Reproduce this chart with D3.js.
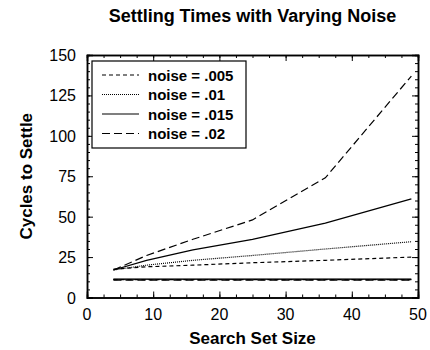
<!DOCTYPE html>
<html>
<head>
<meta charset="utf-8">
<script src="https://cdn.jsdelivr.net/npm/d3@7"></script>
<style>
  body { margin: 0; background: #fff; }
  svg { font-family: 'Liberation Sans', Arial, sans-serif; }
</style>
</head>
<body>
<div id="chart"></div>
<script>
// Settling times with varying noise
const setSizes = [4, 9, 16, 25, 36, 49];
const noiseLabels = ['noise = .005', 'noise = .01', 'noise = .015', 'noise = .02'];
const absentValues = [
    [17.5, 19, 20, 21.5, 23, 25],
    [17, 20, 23, 26, 30, 34.5],
    [17, 23, 29.5, 36, 46, 61],
    [17, 26, 36, 48, 74, 137]
];
// the flat line near the bottom: all four noise levels overlap there
const presentValues = [
    [11, 11, 11, 11, 11, 11],
    [11.2, 11.2, 11.2, 11.2, 11.2, 11.2],
    [11.4, 11.4, 11.4, 11.4, 11.4, 11.4],
    [10.8, 10.8, 10.8, 10.8, 10.8, 10.8]
];
const xTicks = [0, 10, 20, 30, 40, 50];
const yTicks = [0, 25, 50, 75, 100, 125, 150];

const dashes = ['4,3', '1,1', null, '8,4'];

const width = 430, height = 350;
const margin = { top: 55, right: 12, bottom: 52, left: 87 };
const innerW = 418 - margin.left;
const innerH = 297.5 - margin.top;

const svg = d3.select('#chart').append('svg')
    .attr('width', width)
    .attr('height', height);

const g = svg.append('g')
    .attr('transform', `translate(${margin.left},${margin.top})`);

const x = d3.scaleLinear().domain([0, 50]).range([0, innerW]);
const y = d3.scaleLinear().domain([0, 150]).range([innerH, 0]);

// minor + major ticks, drawn inward on all four sides
const xMinor = d3.range(0, 50.01, 2.5);
const yMinor = d3.range(0, 150.01, 5);

function tickAxis(axisFn, scale, values, size) {
    return axisFn(scale).tickValues(values).tickSize(size).tickFormat('');
}

const axes = [
    { sel: g.append('g').attr('transform', `translate(0,${innerH})`), fn: d3.axisTop, s: x, minor: xMinor, major: xTicks },
    { sel: g.append('g'), fn: d3.axisBottom, s: x, minor: xMinor, major: xTicks },
    { sel: g.append('g'), fn: d3.axisRight, s: y, minor: yMinor, major: yTicks },
    { sel: g.append('g').attr('transform', `translate(${innerW},0)`), fn: d3.axisLeft, s: y, minor: yMinor, major: yTicks }
];
axes.forEach(a => {
    a.sel.append('g').call(tickAxis(a.fn, a.s, a.minor, 3));
    a.sel.append('g').call(tickAxis(a.fn, a.s, a.major, 6));
    a.sel.selectAll('path').attr('stroke', '#000').attr('stroke-width', 1.5);
    a.sel.selectAll('line').attr('stroke', '#000').attr('stroke-width', 1);
});

// tick labels
g.selectAll('.xlab')
    .data(xTicks)
    .enter().append('text')
    .attr('x', d => x(d))
    .attr('y', innerH + 22)
    .attr('text-anchor', 'middle')
    .style('font-size', '16px')
    .text(d => d);

g.selectAll('.ylab')
    .data(yTicks)
    .enter().append('text')
    .attr('x', -11)
    .attr('y', d => y(d) + 6)
    .attr('text-anchor', 'end')
    .style('font-size', '16px')
    .text(d => d);

// lines
const line = d3.line()
    .x((d, i) => x(setSizes[i]))
    .y(d => y(d));

presentValues.forEach((vals, k) => {
    g.append('path')
        .attr('d', line(vals))
        .attr('fill', 'none')
        .attr('stroke', '#000')
        .attr('stroke-width', 1.2)
        .attr('stroke-dasharray', dashes[k]);
});

absentValues.forEach((vals, k) => {
    g.append('path')
        .attr('d', line(vals))
        .attr('fill', 'none')
        .attr('stroke', '#000')
        .attr('stroke-width', 1.2)
        .attr('stroke-dasharray', dashes[k]);
});

// legend
const legend = svg.append('g').attr('transform', 'translate(92,61)');
legend.append('rect')
    .attr('width', 154)
    .attr('height', 87)
    .attr('fill', '#fff')
    .attr('stroke', '#000')
    .attr('stroke-width', 1.2);

noiseLabels.forEach((lab, i) => {
    const row = legend.append('g').attr('transform', `translate(0,${14 + i * 19.5})`);
    row.append('line')
        .attr('x1', 10).attr('x2', 47)
        .attr('stroke', '#000')
        .attr('stroke-width', 1.2)
        .attr('stroke-dasharray', dashes[i]);
    row.append('text')
        .attr('x', 56)
        .attr('y', 5.5)
        .style('font-size', '15px')
        .style('font-weight', 'bold')
        .text(lab);
});

// title and axis labels
svg.append('text')
    .attr('x', margin.left + innerW / 2)
    .attr('y', 22)
    .attr('text-anchor', 'middle')
    .style('font-size', '18px')
    .style('font-weight', 'bold')
    .text('Settling Times with Varying Noise');

svg.append('text')
    .attr('x', margin.left + innerW / 2)
    .attr('y', 344)
    .attr('text-anchor', 'middle')
    .style('font-size', '17px')
    .style('font-weight', 'bold')
    .text('Search Set Size');

svg.append('text')
    .attr('transform', 'rotate(-90)')
    .attr('x', -(margin.top + innerH / 2))
    .attr('y', 32)
    .attr('text-anchor', 'middle')
    .style('font-size', '17px')
    .style('font-weight', 'bold')
    .text('Cycles to Settle');
</script>
</body>
</html>
